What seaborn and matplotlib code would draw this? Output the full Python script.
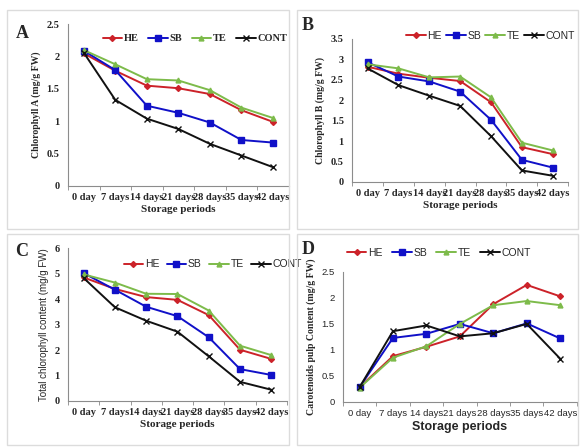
"""
Chlorophyll and carotenoid content over storage periods (4 panels)
"""

import pandas as pd
import seaborn as sns
import matplotlib.pyplot as plt
from matplotlib.patches import Rectangle
from matplotlib.ticker import FixedLocator

sns.set_style('white')

# Data

periods = ['0 day', '7 days', '14 days', '21 days', '28 days', '35 days', '42 days']
treatments = ['HE', 'SB', 'TE', 'CONT']

chl_a = {
    'HE': [2.05, 1.78, 1.55, 1.51, 1.42, 1.17, 0.99],
    'SB': [2.09, 1.79, 1.24, 1.13, 0.98, 0.71, 0.67],
    'TE': [2.10, 1.88, 1.65, 1.63, 1.48, 1.21, 1.05],
    'CONT': [2.06, 1.33, 1.04, 0.88, 0.65, 0.47, 0.29],
}
chl_b = {
    'HE': [2.82, 2.65, 2.55, 2.47, 1.95, 0.85, 0.68],
    'SB': [2.93, 2.58, 2.46, 2.21, 1.52, 0.54, 0.35],
    'TE': [2.88, 2.78, 2.56, 2.58, 2.07, 0.96, 0.77],
    'CONT': [2.78, 2.37, 2.11, 1.86, 1.12, 0.28, 0.15],
}
chl_total = {
    'HE': [4.85, 4.40, 4.08, 3.97, 3.37, 2.01, 1.65],
    'SB': [5.02, 4.37, 3.70, 3.33, 2.50, 1.25, 1.02],
    'TE': [4.97, 4.65, 4.21, 4.20, 3.55, 2.17, 1.80],
    'CONT': [4.83, 3.68, 3.15, 2.72, 1.75, 0.75, 0.44],
}
carotenoids = {
    'HE': [0.28, 0.88, 1.06, 1.26, 1.88, 2.25, 2.03],
    'SB': [0.28, 1.23, 1.31, 1.50, 1.32, 1.51, 1.22],
    'TE': [0.27, 0.85, 1.07, 1.50, 1.86, 1.94, 1.86],
    'CONT': [0.28, 1.36, 1.47, 1.26, 1.32, 1.50, 0.83],
}

colors = {'HE': '#CC2229', 'SB': '#1010C8', 'TE': '#7DBB4A', 'CONT': '#111111'}
markers = {'HE': 'D', 'SB': 's', 'TE': '^', 'CONT': 'X'}
final_markers = {'HE': 'D', 'SB': 's', 'TE': '^', 'CONT': 'x'}
msizes = {'HE': 3, 'SB': 4.5, 'TE': 3.5, 'CONT': 5}

SERIF = 'Liberation Serif'
SANS = 'Liberation Sans'


def long_df(values):
    rows = []
    for t in treatments:
        for p, v in zip(periods, values[t]):
            rows.append({'period': p, 'value': v, 'treatment': t})
    return pd.DataFrame(rows)


def draw_panel(ax, values, ymax, ystep, ylabel, ylab_font, ylab_weight,
               tick_font, tick_weight, tick_size, xlab_font, xlab_size,
               leg_font, leg_weight, leg_anchor, leg_spacing):
    dfPlot = long_df(values)
    sns.lineplot(data=dfPlot, x='period', y='value', hue='treatment',
                 style='treatment', markers=markers, dashes=False,
                 palette=colors, hue_order=treatments, style_order=treatments,
                 sort=False, legend=False, linewidth=1.4, ax=ax)
    for line, t in zip(ax.lines, treatments):
        line.set_marker(final_markers[t])
        line.set_markeredgecolor(colors[t])
        line.set_markerfacecolor(colors[t])
        line.set_markersize(msizes[t])
        line.set_markeredgewidth(1.0)

    ax.set_xlim(-0.5, len(periods) - 0.5)
    ax.set_ylim(0, ymax)
    yt = [round(i * ystep, 2) for i in range(int(round(ymax / ystep)) + 1)]
    ax.set_yticks(yt)
    ax.set_yticklabels(['{:g}'.format(v) for v in yt])
    ax.xaxis.set_minor_locator(FixedLocator([i - 0.5 for i in range(len(periods) + 1)]))
    ax.tick_params(axis='x', which='major', length=0, pad=5)
    ax.tick_params(axis='x', which='minor', length=3, color='#888888', direction='out', bottom=True)
    ax.tick_params(axis='y', length=0, pad=6)
    for lab in ax.get_xticklabels() + ax.get_yticklabels():
        lab.set_fontfamily(tick_font)
        lab.set_fontweight(tick_weight)
        lab.set_fontsize(tick_size)

    for s in ['top', 'right']:
        ax.spines[s].set_visible(False)
    for s in ['left', 'bottom']:
        ax.spines[s].set_color('#8c8c8c')
        ax.spines[s].set_linewidth(0.8)

    ax.set_xlabel('Storage periods', fontfamily=xlab_font, fontweight='bold',
                  fontsize=xlab_size, labelpad=2)
    ax.set_ylabel(ylabel, fontfamily=ylab_font, fontweight=ylab_weight,
                  fontsize=7, labelpad=4)

    ax.legend(ax.lines, treatments, loc='center', bbox_to_anchor=leg_anchor,
              ncol=4, frameon=False, handlelength=1.9, handletextpad=0.15,
              columnspacing=leg_spacing, borderaxespad=0,
              prop={'family': leg_font, 'weight': leg_weight, 'size': 7.5})


fig = plt.figure(figsize=(5.81, 4.48), dpi=100)

# panel borders (pixel boxes converted to figure fractions)
W, H = 581, 448
for (x0, y0, x1, y1) in [(7, 10, 289, 229), (297, 10, 578, 229),
                         (7, 234, 289, 445), (297, 234, 578, 445)]:
    fig.patches.append(Rectangle((x0 / W, 1 - y1 / H), (x1 - x0) / W, (y1 - y0) / H,
                                 transform=fig.transFigure, fill=False,
                                 edgecolor='#dcdcdc', linewidth=1.0))

axA = fig.add_axes([0.117, 0.585, 0.380, 0.361])
axB = fig.add_axes([0.606, 0.594, 0.372, 0.319])
axC = fig.add_axes([0.117, 0.105, 0.377, 0.341])
axD = fig.add_axes([0.590, 0.103, 0.403, 0.290])

draw_panel(axA, chl_a, 2.5, 0.5, 'Chlorophyll A (mg/g FW)', SERIF, 'bold',
           SERIF, 'bold', 7.5, SERIF, 8, SERIF, 'bold', (0.575, 0.91), 0.9)
draw_panel(axB, chl_b, 3.5, 0.5, 'Chlorophyll B (mg/g FW)', SERIF, 'bold',
           SERIF, 'bold', 7.5, SERIF, 8, SANS, 'normal', (0.64, 1.02), 0.4)
draw_panel(axC, chl_total, 6, 1, 'Total chlorophyll content (mg/g FW)', SANS, 'normal',
           SERIF, 'bold', 7.5, SERIF, 8, SANS, 'normal', (0.66, 0.895), 0.7)
draw_panel(axD, carotenoids, 2.5, 0.5, 'Carotenoids pulp Content (mg/g FW)', SERIF, 'bold',
           SANS, 'normal', 6.8, SANS, 9, SANS, 'normal', (0.41, 1.146), 0.9)

# panel letters
for letter, (px, py) in {'A': (22, 33), 'B': (308, 26), 'C': (22, 251), 'D': (308, 249)}.items():
    fig.text(px / W, 1 - py / H, letter, fontfamily=SERIF, fontweight='bold',
             fontsize=13, ha='center', va='center')

plt.savefig('out.png', dpi=100)
